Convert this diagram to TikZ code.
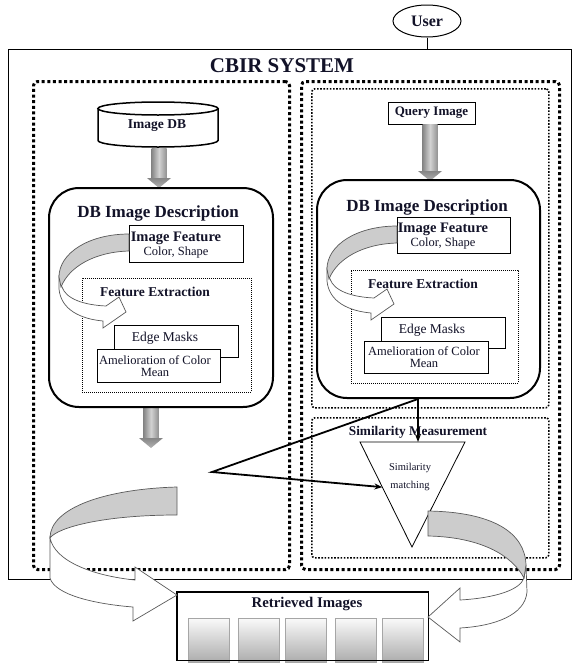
\documentclass[tikz,border=0pt]{standalone}
\usepackage{fontspec}
\setmainfont{Liberation Serif}
\usetikzlibrary{shapes.geometric,arrows.meta,calc}
\definecolor{txt}{RGB}{18,18,40}
\definecolor{bandgray}{RGB}{204,204,204}
\tikzset{
  thickdot/.style={draw, line width=3pt, dash pattern=on 3pt off 2.6pt, rounded corners=4pt, inner sep=0pt},
  thindot/.style={draw, line width=1.6pt, dash pattern=on 1.6pt off 1.6pt, rounded corners=3pt, inner sep=0pt},
  finedot/.style={draw, line width=0.8pt, dash pattern=on 0.8pt off 1.2pt, inner sep=0pt},
  plainbox/.style={draw, line width=1pt, fill=white, inner sep=0pt},
  descbox/.style={draw, line width=2pt, rounded corners=30pt, inner sep=0pt, fill=white},
  conn/.style={line width=1.8pt, -{Stealth[length=8pt,width=6pt]}},
  band/.style={fill=bandgray, draw=black!65, line width=0.7pt},
  bandw/.style={fill=white, draw=black!65, line width=0.7pt},
  lbl/.style={inner sep=0pt, text=txt},
  imgcell/.style={draw=gray!70, line width=1pt, top color=gray!4, bottom color=gray!65, minimum width=41pt, minimum height=44pt, inner sep=0pt},
}
\newcommand\grayarr[3]{%
  \shade[left color=gray!95, right color=gray!85, middle color=gray!35] (#1-7.5,#2) rectangle (#1+7.5,#3);
  \shade[top color=gray!95, bottom color=gray!60] (#1-12,#3) -- (#1+12,#3) -- (#1,#3+10) -- cycle;
}
\newcommand\smallcurl{%
  \path[bandw] (-70,52) -- (-70,64) .. controls (-68,85) and (-48,94) .. (-26,96) -- (-26,103) -- (-3,87) -- (-10,72) -- (-23,81) .. controls (-45,80) and (-63,74) .. (-67,62) -- cycle;
  \path[band] (0,9) .. controls (-40,9) and (-70,28) .. (-70,52) -- (-68,62) .. controls (-60,42) and (-35,27) .. (0,26) -- cycle;
}
\begin{document}
\begin{tikzpicture}[x=1pt,y=-1pt]
\useasboundingbox (0,0) rectangle (573,664);

% user and system frame
\node[ellipse, draw, line width=1pt, minimum width=68pt, minimum height=32pt, inner sep=0pt, text=txt, font=\bfseries\fontsize{16}{18}\selectfont] (user) at (427,21) {User};
\node[draw, line width=1pt, minimum width=563pt, minimum height=530pt, anchor=north west, inner sep=0pt] (outer) at (8,49) {};
\draw[line width=1pt] (user.south) -- (user.south |- outer.north);
\node[lbl, font=\bfseries\fontsize{21}{24}\selectfont] (title) at (282,66) {CBIR SYSTEM};

% panels
\node[thickdot, minimum width=256pt, minimum height=488pt, anchor=north west] (lpanel) at (32,80) {};
\node[thickdot, minimum width=258pt, minimum height=488pt, anchor=north west] (rpanel) at (300,80) {};
\node[thindot, minimum width=237pt, minimum height=319pt, anchor=north west] (rtop) at (311,88) {};
\node[thindot, minimum width=237pt, minimum height=140pt, anchor=north west] (rbot) at (311,417) {};

% image DB cylinder
\node[minimum width=120pt, minimum height=45pt, inner sep=0pt] (imgdb) at (158,124.5) {};
\draw[line width=1.5pt, fill=white] (98,108.5) -- (98,140.5) arc[start angle=180, end angle=360, x radius=60pt, y radius=6.5pt] -- (218,108.5);
\draw[line width=1.5pt] (158,108.5) ellipse [x radius=60pt, y radius=6.5pt];
\node[lbl, font=\bfseries\fontsize{13.5}{15}\selectfont] at (157,126) {Image DB};

% query image
\node[plainbox, minimum width=87pt, minimum height=22pt, text=txt, font=\bfseries\fontsize{13}{15}\selectfont] (query) at (431.5,113) {Query Image};

% gray arrows
\grayarr{159}{148}{178}
\grayarr{430}{124}{171}
\grayarr{151}{407}{438}

% left description
\node[descbox, minimum width=224pt, minimum height=219pt] (ldesc) at (161,297.5) {};
\node[lbl, font=\bfseries\fontsize{17}{19}\selectfont] (ldt) at (158,213) {DB Image Description};
\node[plainbox, minimum width=114pt, minimum height=37pt] (lfeat) at (186,243.5) {};
\node[lbl, font=\bfseries\fontsize{14.5}{16}\selectfont] at (176,238) {Image Feature};
\node[lbl, font=\fontsize{12.5}{14}\selectfont] at (176,252) {Color, Shape};
\node[finedot, minimum width=169pt, minimum height=114pt] (lfe) at (166.5,335) {};
\node[lbl, font=\bfseries\fontsize{13.5}{15}\selectfont] at (155,292) {Feature Extraction};
\node[plainbox, minimum width=124pt, minimum height=32pt] (ledge) at (176,341) {};
\node[lbl, font=\fontsize{13.5}{15}\selectfont] at (165,338) {Edge Masks};
\node[plainbox, minimum width=123pt, minimum height=33pt] (lamel) at (158.5,365.5) {};
\node[lbl, align=center, font=\fontsize{12.5}{12.5}\selectfont] at (155,366) {Amelioration of Color\\Mean};
\begin{scope}[shift={(129,225)}]\smallcurl\end{scope}

% right description
\node[descbox, minimum width=223pt, minimum height=218pt] (rdesc) at (428.5,289) {};
\node[lbl, font=\bfseries\fontsize{17}{19}\selectfont] (rdt) at (427,207) {DB Image Description};
\node[plainbox, minimum width=113pt, minimum height=36pt] (rfeat) at (453.5,235) {};
\node[lbl, font=\bfseries\fontsize{14.5}{16}\selectfont] at (443,229) {Image Feature};
\node[lbl, font=\fontsize{12.5}{14}\selectfont] at (443,243) {Color, Shape};
\node[finedot, minimum width=167pt, minimum height=113pt] (rfe) at (434.5,326.5) {};
\node[lbl, font=\bfseries\fontsize{13.5}{15}\selectfont] at (423,284) {Feature Extraction};
\node[plainbox, minimum width=124pt, minimum height=31pt] (redge) at (443,332.5) {};
\node[lbl, font=\fontsize{13.5}{15}\selectfont] at (432,330) {Edge Masks};
\node[plainbox, minimum width=124pt, minimum height=32pt] (ramel) at (426,357) {};
\node[lbl, align=center, font=\fontsize{12.5}{12.5}\selectfont] at (424,357) {Amelioration of Color\\Mean};
\begin{scope}[shift={(397,217)}]\smallcurl\end{scope}

% similarity measurement
\node[lbl, font=\bfseries\fontsize{13.3}{15}\selectfont] (simt) at (418,432) {Similarity Measurement};
\coordinate (tl) at (360,442);
\coordinate (tr) at (465,442);
\coordinate (tb) at (412,547);
\draw[line width=0.8pt, fill=white] (tl) -- (tr) -- (tb) -- cycle;
\node[lbl, align=center, font=\fontsize{10.5}{18}\selectfont] (simm) at (410,477) {Similarity\\matching};

% connectors
\coordinate (rout) at ([xshift=-10.5pt]rdesc.south);
\coordinate (vtx) at (212,472);
\draw[conn] (rout) -- (vtx) -- ($(tl)!0.43!(tb)$);
\draw[conn] (rout) -- (rout |- tl);

% retrieved images
\node[draw, line width=1pt, fill=white, minimum width=251pt, minimum height=68pt, inner sep=0pt] (ret) at (302.5,626) {};
\node[lbl, font=\bfseries\fontsize{14.8}{16}\selectfont] at (307,604) {Retrieved Images};
\node[imgcell] (c1) at (208.5,640) {};
\node[imgcell] (c2) at (258.5,640) {};
\node[imgcell] (c3) at (306,640) {};
\node[imgcell] (c4) at (356,640) {};
\node[imgcell] (c5) at (402.5,640) {};
\draw[line width=1pt] (ret.north west) rectangle (ret.south east);

% big curved arrows
\path[bandw] (50,538) -- (50,578) .. controls (55,595) and (95,604) .. (133,607) -- (133,621) -- (177,595) -- (135,567) -- (135,580) .. controls (95,576) and (55,562) .. (50,538) -- cycle;
\path[band] (177,487) .. controls (105,489) and (50,508) .. (50,538) .. controls (58,527) and (105,515) .. (177,515) -- cycle;

\path[bandw] (526,565) -- (527,592) .. controls (525,615) and (495,626) .. (460,628) -- (460,642) -- (428,617) -- (460,588) -- (460,600) .. controls (495,598) and (520,590) .. (524,578) -- cycle;
\path[band] (428,511) .. controls (492,512) and (525,532) .. (526,565) -- (524,578) .. controls (512,555) and (480,537) .. (428,536) -- cycle;
\end{tikzpicture}
\end{document}
